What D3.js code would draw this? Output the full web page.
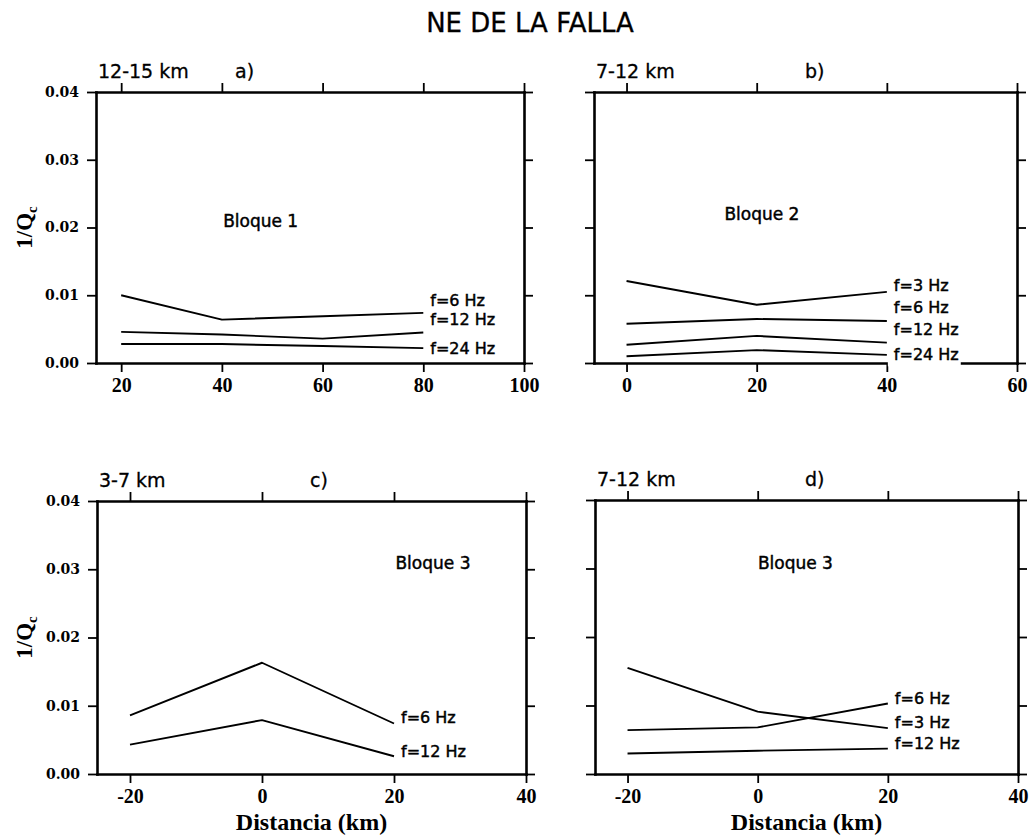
<!DOCTYPE html>
<html>
<head>
<meta charset="utf-8">
<script src="https://cdn.jsdelivr.net/npm/d3@7"></script>
<style>
  html, body { margin: 0; padding: 0; background: #fff; }
  svg { display: block; }
</style>
</head>
<body>
<svg id="chart" width="1031" height="838"></svg>
<script>
// ---- Data: coda attenuation 1/Qc versus distance, NE side of the fault ----
const yTickValues = [0, 0.01, 0.02, 0.03, 0.04];

// a) Bloque 1, 12-15 km
const xTicksA = [20, 40, 60, 80, 100];
const distA = [20, 40, 60, 80];
const qA_6Hz  = [0.0100, 0.0064, 0.0069, 0.0074];
const qA_12Hz = [0.0046, 0.0042, 0.0036, 0.0045];
const qA_24Hz = [0.0028, 0.0028, 0.0025, 0.0022];

// b) Bloque 2, 7-12 km
const xTicksB = [0, 20, 40, 60];
const distB = [0, 20, 40];
const qB_3Hz  = [0.0121, 0.0086, 0.0105];
const qB_6Hz  = [0.0058, 0.0065, 0.0062];
const qB_12Hz = [0.0027, 0.0040, 0.0030];
const qB_24Hz = [0.0010, 0.0019, 0.0012];

// c) Bloque 3, 3-7 km
const xTicksC = [-20, 0, 20, 40];
const distC = [-20, 0, 20];
const qC_6Hz  = [0.0086, 0.0163, 0.0074];
const qC_12Hz = [0.0043, 0.0079, 0.0026];

// d) Bloque 3, 7-12 km
const xTicksD = [-20, 0, 20, 40];
const distD = [-20, 0, 20];
const qD_3Hz  = [0.0155, 0.0091, 0.0067];
const qD_6Hz  = [0.0064, 0.0068, 0.0103];
const qD_12Hz = [0.0030, 0.0034, 0.0037];

// ---- Panel definitions (layout kept separate from values) ----
const panels = [
  {
    depth: "12-15 km", letter: "a)", block: "Bloque 1",
    xDomain: [15, 100], xTicks: xTicksA, yLabels: true, xTitle: false,
    box: { x: [96, 524], y: [92, 363] }, letterX: 235,
    blockAt: [47.7, 0.021],
    series: [
      { dist: distA, q: qA_6Hz,  label: "f=6 Hz",  labelAt: 0.0093 },
      { dist: distA, q: qA_12Hz, label: "f=12 Hz", labelAt: 0.0065 },
      { dist: distA, q: qA_24Hz, label: "f=24 Hz", labelAt: 0.0022 }
    ]
  },
  {
    depth: "7-12 km", letter: "b)", block: "Bloque 2",
    xDomain: [-5, 60], xTicks: xTicksB, yLabels: false, xTitle: false,
    box: { x: [594, 1017], y: [92, 363] }, letterX: 805,
    blockAt: [20.8, 0.022],
    series: [
      { dist: distB, q: qB_3Hz,  label: "f=3 Hz",  labelAt: 0.01147 },
      { dist: distB, q: qB_6Hz,  label: "f=6 Hz",  labelAt: 0.00827 },
      { dist: distB, q: qB_12Hz, label: "f=12 Hz", labelAt: 0.00493 },
      { dist: distB, q: qB_24Hz, label: "f=24 Hz", labelAt: 0.00124 }
    ]
  },
  {
    depth: "3-7 km", letter: "c)", block: "Bloque 3",
    xDomain: [-25, 40], xTicks: xTicksC, yLabels: true, xTitle: true,
    box: { x: [97, 526], y: [501, 774] }, letterX: 310,
    blockAt: [25.9, 0.0309],
    series: [
      { dist: distC, q: qC_6Hz,  label: "f=6 Hz",  labelAt: 0.0083 },
      { dist: distC, q: qC_12Hz, label: "f=12 Hz", labelAt: 0.0034 }
    ]
  },
  {
    depth: "7-12 km", letter: "d)", block: "Bloque 3",
    xDomain: [-25, 40], xTicks: xTicksD, yLabels: false, xTitle: true,
    box: { x: [595, 1018], y: [500, 774] }, letterX: 805,
    blockAt: [5.8, 0.0308],
    series: [
      { dist: distD, q: qD_6Hz,  label: "f=6 Hz",  labelAt: 0.01108 },
      { dist: distD, q: qD_3Hz,  label: "f=3 Hz",  labelAt: 0.00752 },
      { dist: distD, q: qD_12Hz, label: "f=12 Hz", labelAt: 0.00452 }
    ]
  }
];

const SANS = "'DejaVu Sans', 'Noto Sans', sans-serif";
const SERIF = "'Liberation Serif', 'DejaVu Serif', serif";
const SERIF_WIDE = "'DejaVu Serif', 'Liberation Serif', serif";

const svg = d3.select("#chart");
svg.append("rect").attr("width", 1031).attr("height", 838).attr("fill", "#fff");

// Sans annotations are drawn slightly heavier than the regular face
function sansText(sel, size) {
  return sel.attr("font-family", SANS).attr("font-size", size)
    .attr("fill", "#000").attr("stroke", "#000").attr("stroke-width", 0.45);
}

// Title
sansText(svg.append("text"), 26)
  .attr("x", 530).attr("y", 32)
  .attr("text-anchor", "middle")
  .attr("stroke-width", 0.3)
  .text("NE DE LA FALLA");

const TICK = 9;

function styleAxis(g) {
  g.select(".domain").attr("stroke", "#000").attr("stroke-width", 2.6).attr("stroke-linecap", "square");
  g.selectAll(".tick line").attr("stroke", "#000").attr("stroke-width", 1.8);
}

// Plain hyphen for negative distances
const intLabel = d => String(d);

panels.forEach(p => {
  const x = d3.scaleLinear().domain(p.xDomain).range(p.box.x);
  const y = d3.scaleLinear().domain([0, 0.04]).range([p.box.y[1], p.box.y[0]]);
  const g = svg.append("g");

  // Frame with outward ticks on all four sides
  const left = g.append("g").attr("transform", `translate(${p.box.x[0]},0)`)
    .call(d3.axisLeft(y).tickValues(yTickValues).tickSize(TICK).tickSizeOuter(0).tickPadding(8)
      .tickFormat(p.yLabels ? d3.format(".2f") : () => ""));
  styleAxis(left);
  left.selectAll(".tick text")
    .attr("font-family", SERIF_WIDE).attr("font-weight", "bold").attr("font-size", 14)
    .attr("fill", "#000");

  const right = g.append("g").attr("transform", `translate(${p.box.x[1]},0)`)
    .call(d3.axisRight(y).tickValues(yTickValues).tickSize(TICK).tickSizeOuter(0).tickFormat(() => ""));
  styleAxis(right);

  const top = g.append("g").attr("transform", `translate(0,${p.box.y[0]})`)
    .call(d3.axisTop(x).tickValues(p.xTicks).tickSize(TICK).tickSizeOuter(0).tickFormat(() => ""));
  styleAxis(top);

  const bottom = g.append("g").attr("transform", `translate(0,${p.box.y[1]})`)
    .call(d3.axisBottom(x).tickValues(p.xTicks).tickSize(TICK).tickSizeOuter(0).tickPadding(6)
      .tickFormat(intLabel));
  styleAxis(bottom);
  bottom.selectAll(".tick text")
    .attr("font-family", SERIF).attr("font-weight", "bold").attr("font-size", 20)
    .attr("fill", "#000");

  [left, right, top, bottom].forEach(a => a.attr("font-family", null).attr("font-size", null));

  // Series lines
  const line = d3.line().x(d => x(d[0])).y(d => y(d[1]));
  p.series.forEach(s => {
    const pts = s.dist.map((dv, i) => [dv, s.q[i]]);
    g.append("path")
      .attr("d", line(pts))
      .attr("fill", "none")
      .attr("stroke", "#000")
      .attr("stroke-width", 1.9)
      .attr("stroke-linejoin", "round");
  });

  // Frequency labels at the right end of the curves
  p.series.forEach(s => {
    const lx = x(s.dist[s.dist.length - 1]) + 7;
    const lg = g.append("g");
    const t = sansText(lg.append("text"), 16)
      .attr("x", lx).attr("y", y(s.labelAt)).attr("dy", "0.36em")
      .text(s.label);
    const bb = t.node().getBBox();
    lg.insert("rect", "text")
      .attr("x", bb.x - 6).attr("y", bb.y)
      .attr("width", bb.width + 8).attr("height", bb.height + 2)
      .attr("fill", "#fff");
  });

  // Block name
  sansText(g.append("text"), 17)
    .attr("x", x(p.blockAt[0])).attr("y", y(p.blockAt[1])).attr("dy", "0.36em")
    .attr("text-anchor", "middle")
    .text(p.block);

  // Depth range and panel letter above the frame
  sansText(g.append("text"), 19)
    .attr("x", p.box.x[0] + 2).attr("y", p.box.y[0] - 14)
    .attr("stroke-width", 0.3)
    .text(p.depth);
  sansText(g.append("text"), 19)
    .attr("x", p.letterX).attr("y", p.box.y[0] - 14)
    .attr("stroke-width", 0.3)
    .text(p.letter);

  // Y axis title on the left column
  if (p.yLabels) {
    const cy = (p.box.y[0] + p.box.y[1]) / 2;
    const yt = g.append("text")
      .attr("transform", `translate(32,${cy}) rotate(-90)`)
      .attr("text-anchor", "middle")
      .attr("font-family", SERIF).attr("font-weight", "bold").attr("font-size", 23)
      .attr("fill", "#000");
    yt.append("tspan").text("1/Q");
    yt.append("tspan").attr("font-size", 15).attr("dy", 5).text("c");
  }

  // X axis title on the bottom row
  if (p.xTitle) {
    g.append("text")
      .attr("x", (p.box.x[0] + p.box.x[1]) / 2).attr("y", 830)
      .attr("text-anchor", "middle")
      .attr("font-family", SERIF).attr("font-weight", "bold").attr("font-size", 24)
      .attr("fill", "#000")
      .text("Distancia (km)");
  }
});
</script>
</body>
</html>
